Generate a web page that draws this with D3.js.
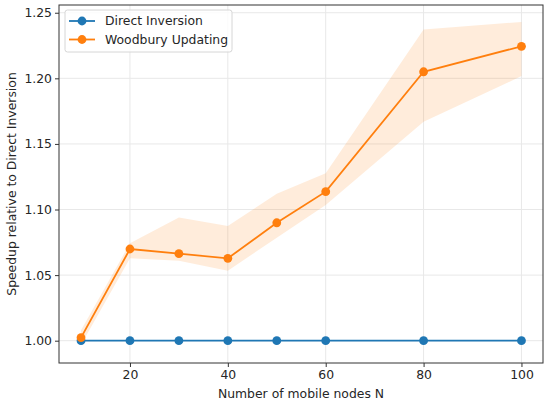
<!DOCTYPE html>
<html>
<head>
<meta charset="utf-8">
<script src="https://cdn.jsdelivr.net/npm/d3@7"></script>
<style>
  body { margin: 0; background: #fff; }
  text { font-family: "DejaVu Sans", sans-serif; fill: #262626; }
</style>
</head>
<body>
<script>
// data
var nodes = [10, 20, 30, 40, 50, 60, 80, 100];
var direct = [1, 1, 1, 1, 1, 1, 1, 1];
var woodbury = [1.0023, 1.0699, 1.0663, 1.0628, 1.0899, 1.1136, 1.2050, 1.2244];
var woodLow = [0.997, 1.0628, 1.0610, 1.0534, 1.0785, 1.1034, 1.1669, 1.2017];
var woodHigh = [1.0080, 1.0742, 1.0940, 1.0874, 1.1120, 1.1276, 1.2373, 1.2430];
var xTicks = [20, 40, 60, 80, 100];
var yTicks = [1.00, 1.05, 1.10, 1.15, 1.20, 1.25];
var seriesNames = ['Direct Inversion', 'Woodbury Updating'];
var colors = ['#1f77b4', '#ff7f0e'];

var width = 550, height = 406;
var margin = { top: 5, right: 7, bottom: 43, left: 59 };
var innerW = width - margin.left - margin.right,
    innerH = height - margin.top - margin.bottom;
var fs = 12.4;

var svg = d3.select('body').append('svg')
    .attr('width', width).attr('height', height);
var g = svg.append('g').attr('transform', `translate(${margin.left},${margin.top})`);

var x = d3.scaleLinear().domain([5.5, 104.4]).range([0, innerW]);
var y = d3.scaleLinear().domain([0.983, 1.2559]).range([innerH, 0]);

// grid
g.selectAll('.gx').data(xTicks).enter().append('line')
    .attr('x1', d => x(d)).attr('x2', d => x(d)).attr('y1', 0).attr('y2', innerH)
    .attr('stroke', '#e8e8e8').attr('stroke-width', 1);
g.selectAll('.gy').data(yTicks).enter().append('line')
    .attr('x1', 0).attr('x2', innerW).attr('y1', d => y(d)).attr('y2', d => y(d))
    .attr('stroke', '#e8e8e8').attr('stroke-width', 1);

// band
var band = nodes.map((n, i) => ({ n: n, lo: woodLow[i], hi: woodHigh[i] }));
g.append('path').datum(band)
    .attr('d', d3.area().x(d => x(d.n)).y0(d => y(d.lo)).y1(d => y(d.hi)))
    .attr('fill', colors[1]).attr('fill-opacity', 0.15);

// lines + markers
[direct, woodbury].forEach(function(vals, k) {
    var pts = nodes.map((n, i) => ({ n: n, v: vals[i] }));
    g.append('path').datum(pts)
        .attr('d', d3.line().x(d => x(d.n)).y(d => y(d.v)))
        .attr('fill', 'none').attr('stroke', colors[k]).attr('stroke-width', 1.8);
    g.selectAll('.m' + k).data(pts).enter().append('circle')
        .attr('cx', d => x(d.n)).attr('cy', d => y(d.v)).attr('r', 4.4)
        .attr('fill', colors[k]);
});

// axes
var xAxis = d3.axisBottom(x).tickValues(xTicks).tickSize(4).tickPadding(3).tickSizeOuter(0);
var yAxis = d3.axisLeft(y).tickValues(yTicks).tickFormat(d3.format('.2f')).tickSize(4).tickPadding(3).tickSizeOuter(0);
var gx = g.append('g').attr('transform', `translate(0,${innerH})`).call(xAxis);
var gy = g.append('g').call(yAxis);
[gx, gy].forEach(a => {
    a.select('.domain').remove();
    a.selectAll('text').attr('font-size', fs).attr('font-family', 'DejaVu Sans').attr('fill', '#262626');
    a.selectAll('line').attr('stroke', '#333');
});

// frame
g.append('rect').attr('width', innerW).attr('height', innerH)
    .attr('fill', 'none').attr('stroke', '#333').attr('stroke-width', 1);

// labels
svg.append('text').attr('x', margin.left + innerW / 2).attr('y', 398)
    .attr('text-anchor', 'middle').attr('font-size', fs).text('Number of mobile nodes N');
svg.append('text').attr('transform', `translate(16,${margin.top + innerH / 2}) rotate(-90)`)
    .attr('text-anchor', 'middle').attr('font-size', fs).text('Speedup relative to Direct Inversion');

// legend
var lg = svg.append('g').attr('transform', 'translate(65,10)');
lg.append('rect').attr('width', 167).attr('height', 42).attr('rx', 2.5)
    .attr('fill', '#fff').attr('fill-opacity', 0.8).attr('stroke', '#d6d6d6');
seriesNames.forEach(function(name, i) {
    var yy = 11 + i * 18.5;
    lg.append('line').attr('x1', 4).attr('x2', 30).attr('y1', yy).attr('y2', yy)
        .attr('stroke', colors[i]).attr('stroke-width', 1.8);
    lg.append('circle').attr('cx', 17).attr('cy', yy).attr('r', 4.4).attr('fill', colors[i]);
    lg.append('text').attr('x', 40).attr('y', yy).attr('dy', '0.35em')
        .attr('font-size', fs).text(name);
});
</script>
</body>
</html>
